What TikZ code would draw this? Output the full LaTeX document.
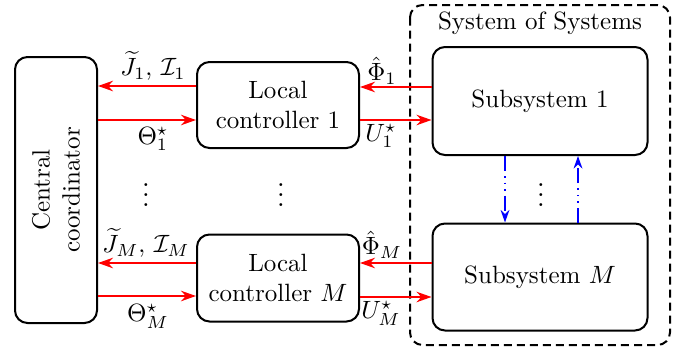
\documentclass[tikz,border=0pt]{standalone}
\usepackage{amsmath,amssymb}
\usetikzlibrary{arrows.meta}
\tikzset{
  blk/.style={draw,thick,rounded corners=5pt,align=center,inner sep=0pt},
  lbl/.style={inner sep=0.5pt},
  sig/.style={red,line width=0.8pt,-{Stealth[length=6pt,width=4.2pt]}},
  com/.style={blue,line width=0.8pt,dash pattern=on 6pt off 2pt on 0.6pt off 2pt on 0.6pt off 2pt on 0.6pt off 2pt,-{Stealth[length=5pt,width=3.5pt]}}
}
\begin{document}
\begin{tikzpicture}[x=0.4pt,y=-0.4pt]
        \useasboundingbox (0,0) rectangle (681,353);
        % system of systems frame
        \draw[thick,dash pattern=on 3.2pt off 2pt,rounded corners=5pt] (410,5) rectangle (670,345);
        \node[lbl] (SoS) at (540,23) {System of Systems};

        \node[blk,minimum width=82*0.4pt,minimum height=266*0.4pt] (CC) at (56,190) {};
        \node[rotate=90,align=center] at (CC.center) {Central\\coordinator};

        \node[blk,minimum width=162*0.4pt,minimum height=86*0.4pt] (L1) at (278,105) {Local\\controller $1$};
        \node[blk,minimum width=162*0.4pt,minimum height=87*0.4pt] (LM) at (278,278) {Local\\controller $M$};
        \node[blk,minimum width=215*0.4pt,minimum height=108*0.4pt] (S1) at (540,101) {Subsystem $1$};
        \node[blk,minimum width=215*0.4pt,minimum height=107*0.4pt] (SM) at (540,277) {Subsystem $M$};

        % coordinator <-> local controllers
        \draw[sig] (L1.west |- 0,86) -- (CC.east |- 0,86);
        \draw[sig] (CC.east |- 0,120) -- (L1.west |- 0,120);
        \draw[sig] (LM.west |- 0,263) -- (CC.east |- 0,263);
        \draw[sig] (CC.east |- 0,296) -- (LM.west |- 0,296);
        \node[lbl] at (153,66) {$\widetilde{J}_1,\,\mathcal{I}_1$};
        \node[lbl] at (153,139) {$\Theta_1^\star$};
        \node[lbl] at (146,243) {$\widetilde{J}_M,\,\mathcal{I}_M$};
        \node[lbl] at (148,316) {$\Theta_M^\star$};

        % local controllers <-> subsystems
        \draw[sig] (S1.west |- 0,87) -- (L1.east |- 0,87);
        \draw[sig] (L1.east |- 0,120) -- (S1.west |- 0,120);
        \draw[sig] (SM.west |- 0,263) -- (LM.east |- 0,263);
        \draw[sig] (LM.east |- 0,297) -- (SM.west |- 0,297);
        \node[lbl] at (382,71) {$\hat{\Phi}_1$};
        \node[lbl] at (381,136) {$U_1^\star$};
        \node[lbl] at (382,245) {$\hat{\Phi}_M$};
        \node[lbl] at (381,313) {$U_M^\star$};

        % subsystem interactions
        \draw[com] (S1.south -| 505,0) -- (SM.north -| 505,0);
        \draw[com] (SM.north -| 578,0) -- (S1.south -| 578,0);

        \node[lbl] at (146,188) {\large$\vdots$};
        \node[lbl] at (281,188) {\large$\vdots$};
        \node[lbl] at (541,188) {\large$\vdots$};
    \end{tikzpicture}
\end{document}
